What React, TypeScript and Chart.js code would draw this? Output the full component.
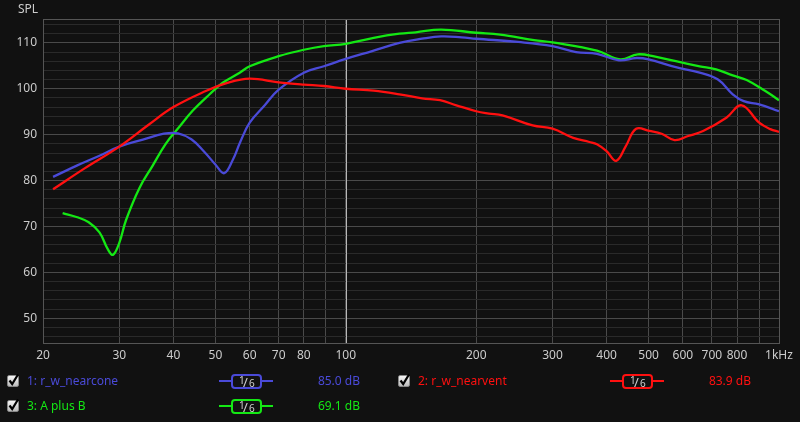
import React, { useEffect, useRef } from 'react';
import { Chart, registerables } from 'chart.js';
Chart.register(...registerables);

// ---- data ----
const nearconeFreq = [21.1, 24, 27, 30, 34, 38, 41, 44, 47, 50, 52.4, 54.9, 57, 60, 65, 70, 80, 89, 100, 115, 133, 150, 166, 185, 200, 250, 300, 340, 380, 427, 469, 500, 578, 656, 723, 782, 829, 900, 1000];
const nearconeSpl = [80.8, 83.3, 85.4, 87.4, 88.9, 90.2, 90.3, 89.0, 86.4, 83.5, 81.6, 84.6, 88.3, 92.6, 96.4, 99.8, 103.5, 104.9, 106.5, 108.2, 110.0, 110.9, 111.4, 111.2, 110.9, 110.2, 109.3, 108.0, 107.6, 106.2, 106.7, 106.4, 104.7, 103.5, 102.0, 98.8, 97.3, 96.6, 95.1];

const nearventFreq = [21.1, 25, 30, 35, 40, 47.5, 53.3, 60, 70, 80, 89, 100, 116, 133, 150, 165, 180, 200, 214, 230, 270, 300, 335, 365, 380, 400, 421, 443, 468, 502, 536, 574, 617, 668, 756, 820, 900, 955, 1000];
const nearventSpl = [78.1, 82.7, 87.4, 92.1, 96.0, 99.5, 101.3, 102.2, 101.4, 100.9, 100.6, 100.0, 99.6, 98.8, 97.9, 97.5, 96.4, 95.1, 94.6, 94.2, 92.0, 91.3, 89.3, 88.4, 87.9, 86.4, 84.3, 87.5, 91.3, 90.8, 90.2, 88.8, 89.7, 90.8, 93.7, 96.4, 92.6, 91.2, 90.6];

const sumFreq = [22.2, 24, 25.5, 27.0, 28.2, 29.0, 30, 31.1, 33.4, 35.8, 38.4, 41.2, 44.3, 48.5, 52, 56.9, 60, 70, 80, 89, 100, 116, 133, 145, 166, 200, 227, 272, 300, 380, 430, 472, 518, 578, 656, 716, 782, 842, 930, 1000];
const sumSpl = [72.9, 72.0, 70.9, 68.7, 65.1, 63.8, 66.4, 71.4, 78.4, 83.2, 88.0, 91.6, 95.2, 98.8, 101.3, 103.5, 104.9, 107.1, 108.5, 109.3, 109.8, 111.1, 112.0, 112.3, 112.9, 112.2, 111.8, 110.6, 110.1, 108.3, 106.4, 107.5, 107.0, 106.0, 104.9, 104.2, 102.9, 101.9, 99.5, 97.5];

const seriesLabels = ['1: r_w_nearcone', '2: r_w_nearvent', '3: A plus B'];
const seriesLevels = ['85.0 dB', '83.9 dB', '69.1 dB'];
const seriesColors = ['#4a4ad8', '#ff1010', '#14e814'];

const xTickValues = [20, 30, 40, 50, 60, 70, 80, 90, 100, 200, 300, 400, 500, 600, 700, 800, 900, 1000];
const xTickLabels = ['20', '30', '40', '50', '60', '70', '80', '', '100', '200', '300', '400', '500', '600', '700', '800', '', '1kHz'];
const yLabelValues = [50, 60, 70, 80, 90, 100, 110];
const Y_MIN = 44.6;
const Y_MAX = 115.2;
const HIGHLIGHT_FREQ = 100;

const FONT = '"Noto Sans", "DejaVu Sans", sans-serif';

function toPoints(f: number[], v: number[]) {
  return f.map((x, i) => ({ x, y: v[i] }));
}

const Check = ({ left, top }: { left: number; top: number }) => (
  <div style={{ position: 'absolute', left, top, width: 12, height: 12, boxSizing: 'border-box', border: '1px solid #888', borderRadius: 2, background: 'linear-gradient(#f6f6f6, #bcbcbc)' }}>
    <svg width="14" height="14" style={{ position: 'absolute', left: -1, top: -3 }}>
      <polyline points="2.5,7.5 5.2,11 11,1.5" fill="none" stroke="#000" strokeWidth="2.2" />
    </svg>
  </div>
);

const Pill = ({ left, cy, color }: { left: number; cy: number; color: string }) => (
  <>
    <div style={{ position: 'absolute', left, top: cy - 1, width: 54, height: 2, background: color }} />
    <div style={{ position: 'absolute', left: left + 12, top: cy - 7.5, width: 31, height: 15, boxSizing: 'border-box', border: `2px solid ${color}`, borderRadius: 4, background: '#111' }}>
      <span style={{ position: 'absolute', left: 6, top: -3, fontSize: 10, color: '#d0d0d0', fontFamily: FONT }}>1</span>
      <span style={{ position: 'absolute', left: 10, top: -3, fontSize: 13, color: '#d0d0d0', fontFamily: FONT }}>/</span>
      <span style={{ position: 'absolute', left: 16, top: 0, fontSize: 10, color: '#d0d0d0', fontFamily: FONT }}>6</span>
    </div>
  </>
);

const LegendItem = ({ idx, colOffset, cy }: { idx: number; colOffset: number; cy: number }) => {
  const color = seriesColors[idx];
  const txt: React.CSSProperties = { position: 'absolute', top: cy - 9, height: 18, lineHeight: '18px', fontSize: 12, fontFamily: FONT, color, whiteSpace: 'nowrap' };
  return (
    <>
      <Check left={7 + colOffset} top={cy - 6} />
      <div style={{ ...txt, left: 27 + colOffset }}>{seriesLabels[idx]}</div>
      <Pill left={219 + colOffset} cy={cy} color={color} />
      <div style={{ ...txt, left: 290 + colOffset, width: 70, textAlign: 'right' }}>{seriesLevels[idx]}</div>
    </>
  );
};

export default function App() {
  const ref = useRef<HTMLCanvasElement>(null);
  useEffect(() => {
    document.body.style.margin = '0';
    document.body.style.background = '#111111';
    const canvas = ref.current!;
    const frame = {
      id: 'frame',
      beforeDatasetsDraw(chart: any) {
        const { ctx, chartArea: a, scales } = chart;
        ctx.save();
        ctx.lineWidth = 1;
        const hx = Math.round(scales.x.getPixelForValue(HIGHLIGHT_FREQ)) + 0.5;
        ctx.strokeStyle = '#b8b8b8';
        ctx.beginPath();
        ctx.moveTo(hx, a.top);
        ctx.lineTo(hx, a.bottom);
        ctx.stroke();
        ctx.strokeStyle = '#555555';
        ctx.strokeRect(Math.round(a.left) + 0.5, Math.round(a.top) + 0.5, Math.round(a.right - a.left), Math.round(a.bottom - a.top));
        ctx.restore();
      },
    };
    const ds = (label: string, data: any, color: string) => ({
      label,
      data,
      borderColor: color,
      backgroundColor: color,
      borderWidth: 2.3,
      pointRadius: 0,
      fill: false,
      tension: 0.4,
    });
    const chart = new Chart(canvas, {
      type: 'line',
      data: {
        datasets: [
          ds(seriesLabels[1], toPoints(nearventFreq, nearventSpl), seriesColors[1]),
          ds(seriesLabels[0], toPoints(nearconeFreq, nearconeSpl), seriesColors[0]),
          ds(seriesLabels[2], toPoints(sumFreq, sumSpl), seriesColors[2]),
        ],
      },
      options: {
        animation: false,
        responsive: false,
        devicePixelRatio: 1,
        parsing: false,
        normalized: true,
        layout: { padding: { left: 0, right: 21, top: 19, bottom: 0 } },
        plugins: { legend: { display: false }, tooltip: { enabled: false } },
        scales: {
          x: {
            type: 'logarithmic',
            min: 20,
            max: 1000,
            afterBuildTicks: (axis: any) => {
              axis.ticks = xTickValues.map((v) => ({ value: v }));
            },
            afterFit: (axis: any) => {
              axis.height = 79;
            },
            ticks: {
              autoSkip: false,
              maxRotation: 0,
              minRotation: 0,
              padding: 5,
              color: '#cccccc',
              font: { family: FONT, size: 12 },
              callback: (_v: any, i: number) => xTickLabels[i],
            },
            grid: {
              drawTicks: false,
              color: '#4a4a4a',
              lineWidth: 1,
            },
            border: { display: false },
          },
          y: {
            type: 'linear',
            min: Y_MIN,
            max: Y_MAX,
            afterBuildTicks: (axis: any) => {
              const t: any[] = [];
              for (let v = 46; v <= 114; v += 2) t.push({ value: v });
              axis.ticks = t;
            },
            afterFit: (axis: any) => {
              axis.width = 43;
            },
            ticks: {
              autoSkip: false,
              padding: 6,
              color: '#cccccc',
              font: { family: FONT, size: 12 },
              callback: (v: any) => (yLabelValues.includes(Number(v)) ? String(v) : ''),
            },
            grid: {
              drawTicks: false,
              color: (c: any) => (c.tick && yLabelValues.includes(c.tick.value) ? '#4a4a4a' : '#2a2a2a'),
              lineWidth: 1,
            },
            border: { display: false },
          },
        },
      },
      plugins: [frame],
    });
    return () => chart.destroy();
  }, []);

  return (
    <div style={{ position: 'relative', width: 800, height: 422, background: '#111111', overflow: 'hidden' }}>
      <canvas ref={ref} width={800} height={422} style={{ position: 'absolute', left: 0, top: 0, width: 800, height: 422 }} />
      <div style={{ position: 'absolute', left: 18, top: 0, height: 18, lineHeight: '18px', fontSize: 12, fontFamily: FONT, color: '#cccccc' }}>SPL</div>
      <LegendItem idx={0} colOffset={0} cy={381} />
      <LegendItem idx={1} colOffset={391} cy={381} />
      <LegendItem idx={2} colOffset={0} cy={406} />
    </div>
  );
}
